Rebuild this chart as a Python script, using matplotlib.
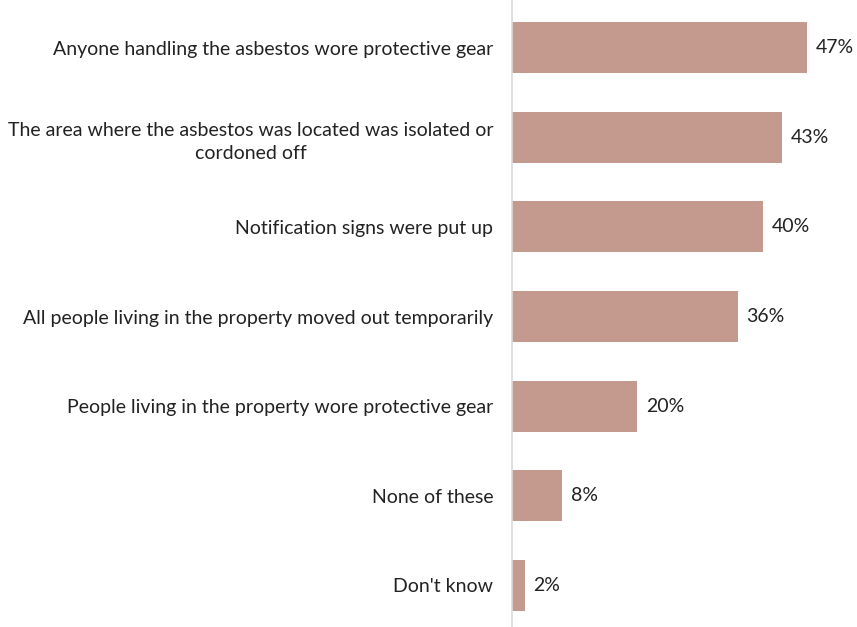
import matplotlib.pyplot as plt

plt.rcParams['font.family'] = ['Lato', 'DejaVu Sans']

categories = [
    "Anyone handling the asbestos wore protective gear",
    "The area where the asbestos was located was isolated or\ncordoned off",
    "Notification signs were put up",
    "All people living in the property moved out temporarily",
    "People living in the property wore protective gear",
    "None of these",
    "Don't know",
]
values = [47, 43, 40, 36, 20, 8, 2]

fig = plt.figure(figsize=(8.57, 6.27), dpi=100)
ax = fig.add_axes([512 / 857, -3 / 627, 345 / 857, 1.0])

ypos = list(range(len(categories)))
ax.barh(ypos, values, height=0.57, color='#c49a8f')
ax.set_ylim(len(categories) - 0.5, -0.5)
ax.set_xlim(0, 55)

for y, v in zip(ypos, values):
    ax.text(v + 1.4, y, f"{v}%", va='center', ha='left', fontsize=14, color='#222222')

ax.set_yticks(ypos)
ax.set_yticklabels(categories, fontsize=14, color='#222222', linespacing=1.45)
ax.tick_params(axis='y', length=0, pad=13.5)
ax.set_xticks([])
for lbl in ax.get_yticklabels():
    lbl.set_horizontalalignment('right')
    lbl.set_multialignment('center')

for side in ['top', 'right', 'bottom']:
    ax.spines[side].set_visible(False)
ax.spines['left'].set_color('#d9d9d9')
ax.spines['left'].set_linewidth(1.2)
ax.spines['left'].set_bounds(len(categories) - 0.5, -0.55)

fig.savefig('out.png', dpi=100)
